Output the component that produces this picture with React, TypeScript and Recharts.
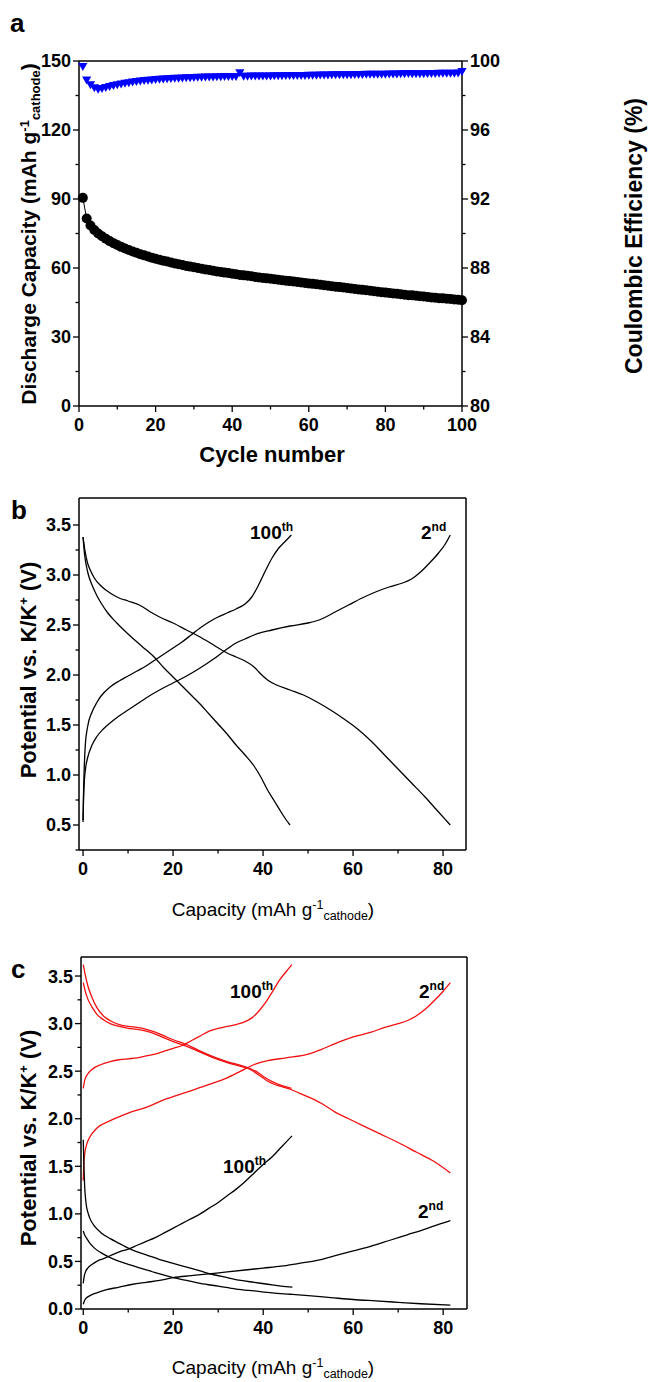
import React from 'react';
import { ComposedChart, LineChart, Line, Scatter, XAxis, YAxis } from 'recharts';

const FONT = '"Liberation Sans", Arial, Helvetica, sans-serif';

// ---------- Panel a ----------
const cycleNumbers: number[] = Array.from({ length: 100 }, (_, i) => i + 1);
const dischargeCapacity: number[] = [
  90.5, 81.5, 78.5, 76.5, 75.0, 73.8, 72.7, 71.7, 70.8, 70.0,
  69.2, 68.5, 67.8, 67.2, 66.6, 66.0, 65.5, 65.0, 64.5, 64.0,
  63.6, 63.2, 62.8, 62.4, 62.0, 61.6, 61.3, 60.9, 60.6, 60.3,
  60.0, 59.7, 59.4, 59.1, 58.8, 58.5, 58.3, 58.0, 57.8, 57.5,
  57.3, 57.0, 56.8, 56.6, 56.4, 56.1, 55.9, 55.7, 55.5, 55.3,
  55.1, 54.9, 54.7, 54.5, 54.3, 54.1, 53.9, 53.7, 53.5, 53.3,
  53.1, 52.9, 52.7, 52.5, 52.3, 52.1, 51.9, 51.7, 51.5, 51.3,
  51.1, 50.9, 50.7, 50.5, 50.3, 50.1, 49.9, 49.7, 49.5, 49.3,
  49.1, 48.9, 48.8, 48.6, 48.4, 48.2, 48.1, 47.9, 47.7, 47.6,
  47.4, 47.2, 47.1, 46.9, 46.8, 46.6, 46.5, 46.3, 46.2, 46.0,
];
const coulombicEfficiency: number[] = [
  99.67, 98.90, 98.62, 98.45, 98.36, 98.40, 98.46, 98.52, 98.57, 98.62,
  98.66, 98.70, 98.74, 98.78, 98.81, 98.84, 98.86, 98.88, 98.90, 98.92,
  98.94, 98.95, 98.96, 98.98, 98.99, 99.00, 99.01, 99.02, 99.03, 99.04,
  99.05, 99.05, 99.06, 99.07, 99.07, 99.08, 99.08, 99.09, 99.09, 99.10,
  99.10, 99.32, 99.11, 99.11, 99.12, 99.12, 99.12, 99.13, 99.13, 99.13,
  99.14, 99.14, 99.14, 99.15, 99.15, 99.15, 99.16, 99.16, 99.16, 99.17,
  99.17, 99.17, 99.18, 99.18, 99.18, 99.19, 99.19, 99.19, 99.20, 99.20,
  99.20, 99.21, 99.21, 99.21, 99.22, 99.22, 99.22, 99.23, 99.23, 99.23,
  99.24, 99.24, 99.24, 99.25, 99.25, 99.27, 99.25, 99.26, 99.26, 99.26,
  99.27, 99.27, 99.27, 99.28, 99.28, 99.28, 99.29, 99.29, 99.30, 99.38,
];
const aCycleTicks = [0, 10, 20, 30, 40, 50, 60, 70, 80, 90, 100];
const aCycleMajor = [0, 20, 40, 60, 80, 100];
const aCapTicks = [0, 15, 30, 45, 60, 75, 90, 105, 120, 135, 150];
const aCapMajor = [0, 30, 60, 90, 120, 150];
const aCeTicks = [80, 82, 84, 86, 88, 90, 92, 94, 96, 98, 100];
const aCeMajor = [80, 84, 88, 92, 96, 100];

const aData = cycleNumbers.map((c, i) => ({ cycle: c, cap: dischargeCapacity[i], ce: coulombicEfficiency[i] }));

// ---------- Panel b (capacity mAh/g, potential V) ----------
const b100Charge: [number, number][] = [
  [0, 0.53], [0.1, 0.8], [0.25, 1.05], [0.5, 1.3], [1, 1.48], [2, 1.63], [3, 1.72], [4, 1.79], [6, 1.88],
  [8, 1.94], [10, 1.99], [12, 2.04], [14, 2.09], [16, 2.15], [18, 2.21], [20, 2.27], [22, 2.33], [24, 2.4],
  [26, 2.47], [28, 2.53], [30, 2.58], [32, 2.62], [34, 2.66], [36, 2.71], [37.5, 2.78], [39, 2.9],
  [40.5, 3.04], [42, 3.17], [43.5, 3.27], [45, 3.34], [46.3, 3.4],
];
const b2Charge: [number, number][] = [
  [0, 0.55], [0.1, 0.75], [0.3, 0.95], [0.6, 1.08], [1, 1.17], [2, 1.3], [3, 1.38], [4.5, 1.46], [6, 1.52],
  [8, 1.59], [10, 1.65], [12, 1.71], [14, 1.77], [17, 1.85], [20, 1.92], [23, 1.99], [26, 2.07], [29, 2.16],
  [32, 2.26], [34, 2.32], [36, 2.36], [38, 2.4], [42, 2.45], [46, 2.49], [50, 2.52], [53, 2.56], [56, 2.63],
  [59, 2.7], [62, 2.77], [65, 2.83], [68, 2.88], [71, 2.92], [73, 2.96], [75, 3.03], [77, 3.12], [79, 3.22],
  [80.5, 3.31], [81.6, 3.4],
];
const b100Discharge: [number, number][] = [
  [0, 3.38], [0.3, 3.22], [0.7, 3.1], [1.2, 3.0], [2, 2.9], [3, 2.8], [4, 2.72], [5.5, 2.62], [7.5, 2.52],
  [10, 2.41], [13, 2.29], [16, 2.17], [18, 2.07], [20, 1.98], [22, 1.89], [24, 1.8], [26, 1.71], [28, 1.61],
  [30, 1.51], [32, 1.41], [34, 1.3], [36, 1.2], [38, 1.09], [39.5, 0.98], [41, 0.85], [42.5, 0.74],
  [44, 0.63], [45, 0.56], [46, 0.5],
];
const b2Discharge: [number, number][] = [
  [0, 3.38], [0.4, 3.25], [1, 3.12], [1.7, 3.04], [2.5, 2.97], [4, 2.89], [6, 2.82], [8, 2.77], [10, 2.74],
  [12.5, 2.7], [15, 2.63], [17, 2.58], [20, 2.52], [23, 2.45], [26, 2.38], [29, 2.3], [32, 2.22], [34, 2.18],
  [36, 2.14], [38, 2.08], [39.5, 2.01], [41, 1.95], [43, 1.9], [46, 1.85], [49, 1.8], [52, 1.73], [55, 1.65],
  [58, 1.56], [61, 1.46], [64, 1.34], [67, 1.2], [70, 1.06], [73, 0.92], [76, 0.78], [79, 0.63], [81.6, 0.5],
];

// ---------- Panel c ----------
const cRed100Charge: [number, number][] = [
  [0, 2.32], [0.3, 2.4], [1, 2.47], [2, 2.52], [4, 2.57], [6, 2.6], [8, 2.62], [10, 2.63], [12, 2.64],
  [14, 2.66], [16, 2.68], [18, 2.71], [20, 2.74], [22, 2.77], [24, 2.82], [26, 2.87], [28, 2.92], [30, 2.95],
  [32, 2.97], [34, 2.99], [36, 3.02], [37.5, 3.06], [39, 3.13], [40.5, 3.22], [42, 3.33], [43.5, 3.45],
  [45, 3.54], [46.4, 3.62],
];
const cRed2Charge: [number, number][] = [
  [0, 1.35], [0.1, 1.5], [0.3, 1.62], [0.7, 1.72], [1.5, 1.81], [3, 1.9], [6, 1.98], [10, 2.06], [14, 2.12],
  [18, 2.2], [23, 2.28], [28, 2.36], [32, 2.43], [35, 2.5], [38, 2.57], [41, 2.61], [45, 2.64], [50, 2.68],
  [53, 2.73], [56, 2.79], [60, 2.86], [64, 2.91], [67, 2.96], [70, 3.0], [72, 3.03], [74, 3.08], [76, 3.15],
  [78, 3.24], [80, 3.34], [81.6, 3.43],
];
const cRed100Discharge: [number, number][] = [
  [0, 3.62], [0.5, 3.5], [1, 3.4], [2, 3.27], [3, 3.17], [4.5, 3.08], [6, 3.03], [8, 2.99], [10, 2.97],
  [12, 2.96], [14, 2.94], [16, 2.91], [18, 2.87], [20, 2.83], [23, 2.78], [26, 2.71], [29, 2.65], [32, 2.6],
  [35, 2.56], [37, 2.53], [39, 2.48], [40.5, 2.43], [42, 2.39], [44, 2.35], [46.3, 2.32],
];
const cRed2Discharge: [number, number][] = [
  [0, 3.43], [0.5, 3.33], [1, 3.26], [2, 3.17], [3, 3.1], [4.5, 3.04], [6, 3.0], [8, 2.97], [10, 2.95],
  [12, 2.94], [14, 2.92], [16, 2.89], [18, 2.85], [20, 2.81], [23, 2.76], [26, 2.7], [29, 2.64], [32, 2.59],
  [35, 2.55], [37, 2.52], [39, 2.46], [40.5, 2.41], [42, 2.37], [44, 2.34], [46, 2.31], [48, 2.27],
  [50, 2.23], [53, 2.16], [56, 2.07], [59, 2.0], [62, 1.93], [66, 1.84], [70, 1.75], [74, 1.65], [78, 1.55],
  [81.6, 1.43],
];
const cBlack100Charge: [number, number][] = [
  [0, 0.27], [0.2, 0.34], [0.5, 0.39], [1, 0.43], [2, 0.47], [3, 0.5], [4.5, 0.53], [6, 0.56], [8, 0.6],
  [10, 0.63], [12, 0.67], [14, 0.71], [16, 0.75], [18, 0.8], [20, 0.85], [22, 0.9], [24, 0.95], [26, 1.0],
  [28, 1.06], [30, 1.12], [32, 1.19], [34, 1.26], [36, 1.34], [38, 1.43], [40, 1.52], [42, 1.6], [44, 1.7],
  [46.4, 1.82],
];
const cBlack2Charge: [number, number][] = [
  [0, 0.05], [0.3, 0.09], [0.8, 0.12], [1.5, 0.14], [3, 0.17], [5, 0.2], [8, 0.23], [11, 0.26], [14, 0.28],
  [17, 0.3], [20, 0.33], [24, 0.35], [28, 0.37], [32, 0.39], [36, 0.41], [40, 0.43], [44, 0.45], [48, 0.48],
  [52, 0.51], [56, 0.56], [60, 0.61], [64, 0.66], [68, 0.72], [72, 0.78], [76, 0.84], [79, 0.89], [81.6, 0.93],
];
const cBlack100Discharge: [number, number][] = [
  [0, 1.78], [0.15, 1.5], [0.3, 1.3], [0.6, 1.12], [1, 1.02], [1.5, 0.95], [2.5, 0.87], [4, 0.8], [6, 0.74],
  [8, 0.69], [10, 0.64], [12, 0.6], [14, 0.57], [17, 0.52], [20, 0.48], [23, 0.44], [26, 0.4], [29, 0.36],
  [32, 0.33], [35, 0.3], [38, 0.28], [41, 0.26], [44, 0.24], [46.5, 0.23],
];
const cBlack2Discharge: [number, number][] = [
  [0, 0.82], [0.3, 0.78], [0.8, 0.74], [1.5, 0.69], [2.5, 0.64], [4, 0.59], [6, 0.54], [8, 0.5], [10, 0.47],
  [12, 0.44], [14, 0.41], [17, 0.37], [20, 0.33], [23, 0.3], [26, 0.27], [30, 0.24], [34, 0.21], [38, 0.19],
  [42, 0.17], [46, 0.155], [50, 0.14], [55, 0.12], [60, 0.1], [65, 0.085], [70, 0.07], [75, 0.055], [81.6, 0.04],
];

const capTicks = [0, 10, 20, 30, 40, 50, 60, 70, 80];
const capMajor = [0, 20, 40, 60, 80];
const bVoltTicks = [0.25, 0.5, 0.75, 1, 1.25, 1.5, 1.75, 2, 2.25, 2.5, 2.75, 3, 3.25, 3.5];
const cVoltTicks = [0, 0.25, 0.5, 0.75, 1, 1.25, 1.5, 1.75, 2, 2.25, 2.5, 2.75, 3, 3.25, 3.5];
const voltMajor = [0, 0.5, 1, 1.5, 2, 2.5, 3, 3.5];

const toPts = (arr: [number, number][]) => arr.map(([x, y]) => ({ x, y }));

// ---------- helpers ----------
const TICK_FS = 18;
const AW = 40; // reserved axis width / height
function makeTick(orient: 'left' | 'right' | 'bottom', majors: number[], fmt: (v: number) => string) {
  return (props: any) => {
    const { x, y, payload } = props;
    const v = Number(payload.value);
    const isMajor = majors.some((m) => Math.abs(m - v) < 1e-9);
    const len = isMajor ? 6 : 3.5;
    const common = { fontFamily: FONT, fontWeight: 700, fontSize: TICK_FS, fill: '#000' } as any;
    if (orient === 'bottom') {
      return (
        <g>
          <line x1={x} x2={x} y1={y} y2={y + len} stroke="#000" strokeWidth={1.3} />
          {isMajor && (
            <text x={x} y={y + 25} textAnchor="middle" {...common}>{fmt(v)}</text>
          )}
        </g>
      );
    }
    if (orient === 'left') {
      return (
        <g>
          <line x1={x - len} x2={x} y1={y} y2={y} stroke="#000" strokeWidth={1.3} />
          {isMajor && (
            <text x={x - 8} y={y} dy="0.36em" textAnchor="end" {...common}>{fmt(v)}</text>
          )}
        </g>
      );
    }
    return (
      <g>
        <line x1={x} x2={x + len} y1={y} y2={y} stroke="#000" strokeWidth={1.3} />
        {isMajor && (
          <text x={x + 8} y={y} dy="0.36em" textAnchor="start" {...common}>{fmt(v)}</text>
        )}
      </g>
    );
  };
}

const TriangleDown = (props: any) => {
  const { cx, cy } = props;
  if (cx == null || cy == null) return null;
  return <polygon points={`${cx - 4.6},${cy - 3.6} ${cx + 4.6},${cy - 3.6} ${cx},${cy + 4.4}`} fill="#0000ff" />;
};

const AXIS_LINE = { stroke: '#000', strokeWidth: 1.5 };
const RED = '#f01010';

// plot box (page coords) -> margins with reserved axis sizes
function marginsFor(box: { l: number; r: number; t: number; b: number }, w: number, h: number) {
  return { left: box.l - AW, right: w - box.r - AW, top: box.t - 10, bottom: h - box.b - AW };
}

function PanelA() {
  const m = marginsFor({ l: 79, r: 462, t: 61, b: 406 }, 650, 480);
  return (
    <ComposedChart width={650} height={480} data={aData} margin={m}>
      <XAxis dataKey="cycle" type="number" domain={[0, 100]} ticks={aCycleTicks} interval={0}
        height={AW} tickSize={0} tickMargin={0} tickLine={false} axisLine={AXIS_LINE}
        tick={makeTick('bottom', aCycleMajor, (v) => String(v))} />
      <XAxis xAxisId="top" orientation="top" type="number" domain={[0, 100]} height={10}
        tick={false} tickLine={false} axisLine={AXIS_LINE} />
      <YAxis yAxisId="left" type="number" domain={[0, 150]} ticks={aCapTicks} interval={0} width={AW}
        tickSize={0} tickMargin={0} tickLine={false} axisLine={AXIS_LINE}
        tick={makeTick('left', aCapMajor, (v) => String(v))} />
      <YAxis yAxisId="right" orientation="right" type="number" domain={[80, 100]} ticks={aCeTicks} interval={0}
        width={AW} tickSize={0} tickMargin={0} tickLine={false} axisLine={AXIS_LINE}
        tick={makeTick('right', aCeMajor, (v) => String(v))} />
      <Line yAxisId="left" dataKey="cap" type="linear" stroke="#000" strokeWidth={1}
        dot={{ r: 5, fill: '#000', stroke: '#000', strokeWidth: 0 }} isAnimationActive={false} />
      <Scatter yAxisId="right" dataKey="ce" fill="#0000ff" shape={TriangleDown} isAnimationActive={false} />
    </ComposedChart>
  );
}

type Curve = { data: [number, number][]; color: string; name: string };

function VoltPanel(props: {
  height: number; box: { l: number; r: number; t: number; b: number }; xDomain: [number, number];
  yDomain: [number, number]; yTicks: number[]; curves: Curve[];
}) {
  const { height, box, xDomain, yDomain, yTicks, curves } = props;
  const m = marginsFor(box, 650, height);
  return (
    <LineChart width={650} height={height} margin={m}>
      <XAxis dataKey="x" type="number" domain={xDomain} allowDataOverflow ticks={capTicks} interval={0}
        height={AW} tickSize={0} tickMargin={0} tickLine={false} axisLine={AXIS_LINE}
        tick={makeTick('bottom', capMajor, (v) => String(v))} />
      <XAxis xAxisId="top" orientation="top" type="number" domain={xDomain} allowDataOverflow height={10}
        tick={false} tickLine={false} axisLine={AXIS_LINE} />
      <YAxis type="number" domain={yDomain} allowDataOverflow ticks={yTicks} interval={0} width={AW}
        tickSize={0} tickMargin={0} tickLine={false} axisLine={AXIS_LINE}
        tick={makeTick('left', voltMajor, (v) => v.toFixed(1))} />
      <YAxis yAxisId="right" orientation="right" type="number" domain={yDomain} allowDataOverflow width={AW}
        tick={false} tickLine={false} axisLine={AXIS_LINE} />
      {curves.map((c) => (
        <Line key={c.name} data={toPts(c.data)} dataKey="y" type="monotone" stroke={c.color}
          strokeWidth={1.3} dot={false} isAnimationActive={false} />
      ))}
    </LineChart>
  );
}

const bCurves: Curve[] = [
  { name: 'b100c', data: b100Charge, color: '#000' },
  { name: 'b2c', data: b2Charge, color: '#000' },
  { name: 'b100d', data: b100Discharge, color: '#000' },
  { name: 'b2d', data: b2Discharge, color: '#000' },
];
const cCurves: Curve[] = [
  { name: 'cr100c', data: cRed100Charge, color: RED },
  { name: 'cr2c', data: cRed2Charge, color: RED },
  { name: 'cr100d', data: cRed100Discharge, color: RED },
  { name: 'cr2d', data: cRed2Discharge, color: RED },
  { name: 'ck100c', data: cBlack100Charge, color: '#000' },
  { name: 'ck2c', data: cBlack2Charge, color: '#000' },
  { name: 'ck100d', data: cBlack100Discharge, color: '#000' },
  { name: 'ck2d', data: cBlack2Discharge, color: '#000' },
];

const T = { fontFamily: FONT, fill: '#000' } as any;

function Ordinal({ x, y, n, suf }: { x: number; y: number; n: string; suf: string }) {
  return (
    <text x={x} y={y} {...T} fontWeight={700} fontSize={19}>
      {n}<tspan dy={-8} fontSize={12}>{suf}</tspan>
    </text>
  );
}

function CapacityTitle({ y }: { y: number }) {
  return (
    <text x={273} y={y} textAnchor="middle" {...T} fontWeight={400} fontSize={19}>
      Capacity (mAh g<tspan dy={-7} fontSize={12.5}>-1</tspan>
      <tspan dy={11} fontSize={12.5}>cathode</tspan>
      <tspan dy={-4}>)</tspan>
    </text>
  );
}

function PotentialTitle({ cy }: { cy: number }) {
  return (
    <text x={36} y={cy} transform={`rotate(-90 36 ${cy})`} textAnchor="middle" {...T} fontWeight={700} fontSize={22}>
      Potential vs. K/K<tspan dy={-8} fontSize={13}>+</tspan><tspan dy={8}> (V)</tspan>
    </text>
  );
}

function Overlay() {
  return (
    <svg width={650} height={1382} style={{ position: 'absolute', left: 0, top: 0, pointerEvents: 'none' }}>
      <text x={10} y={32} {...T} fontWeight={700} fontSize={26}>a</text>
      <text x={11} y={519} {...T} fontWeight={700} fontSize={26}>b</text>
      <text x={11} y={978} {...T} fontWeight={700} fontSize={26}>c</text>

      <text x={36} y={234} transform="rotate(-90 36 234)" textAnchor="middle" {...T} fontWeight={700} fontSize={21}>
        Discharge Capacity (mAh g<tspan dy={-7} fontSize={13}>-1</tspan>
        <tspan dy={11} fontSize={13}>cathode</tspan>
        <tspan dy={-4}>)</tspan>
      </text>
      <text x={642} y={236} transform="rotate(-90 642 236)" textAnchor="middle" {...T} fontWeight={700} fontSize={23}>
        Coulombic Efficiency (%)
      </text>
      <text x={272} y={462} textAnchor="middle" {...T} fontWeight={700} fontSize={22}>Cycle number</text>

      <PotentialTitle cy={670} />
      <CapacityTitle y={916} />
      <Ordinal x={250} y={539} n="100" suf="th" />
      <Ordinal x={421} y={539} n="2" suf="nd" />

      <PotentialTitle cy={1138} />
      <CapacityTitle y={1374} />
      <Ordinal x={230} y={998} n="100" suf="th" />
      <Ordinal x={419} y={998} n="2" suf="nd" />
      <Ordinal x={223} y={1173} n="100" suf="th" />
      <Ordinal x={418} y={1218} n="2" suf="nd" />
    </svg>
  );
}

export default function App() {
  return (
    <div style={{ position: 'absolute', left: 0, top: 0, width: 650, height: 1382, background: '#fff' }}>
      <div style={{ position: 'absolute', left: 0, top: 0 }}>
        <PanelA />
      </div>
      <div style={{ position: 'absolute', left: 0, top: 480 }}>
        <VoltPanel height={460} box={{ l: 79, r: 466, t: 18, b: 370 }}
          xDomain={[-0.9, 85.1]} yDomain={[0.25, 3.77]} yTicks={bVoltTicks} curves={bCurves} />
      </div>
      <div style={{ position: 'absolute', left: 0, top: 940 }}>
        <VoltPanel height={442} box={{ l: 81, r: 467, t: 17, b: 369 }}
          xDomain={[-0.5, 85.3]} yDomain={[0, 3.7]} yTicks={cVoltTicks} curves={cCurves} />
      </div>
      <Overlay />
    </div>
  );
}
